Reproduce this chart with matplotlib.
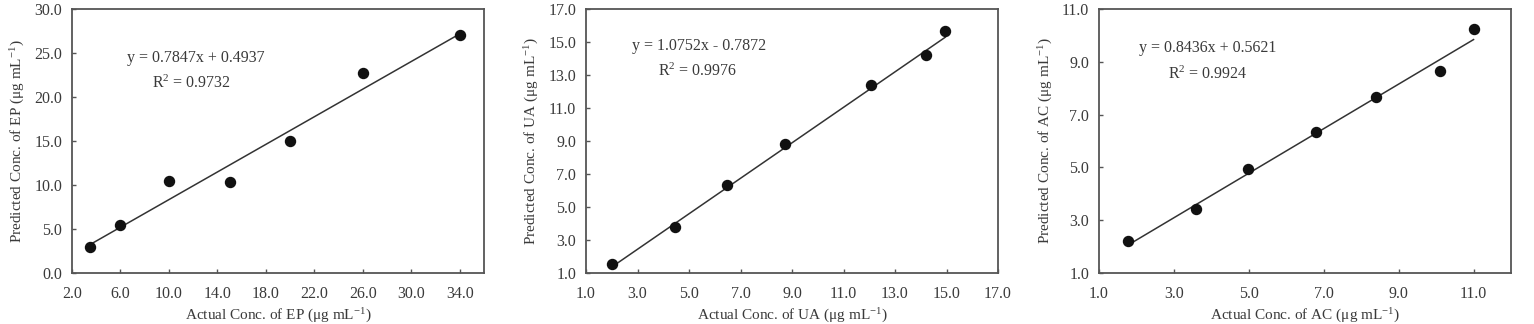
import numpy as np
import matplotlib
matplotlib.use("Agg")
import matplotlib.pyplot as plt

plt.rcParams['font.family'] = ['Liberation Serif', 'DejaVu Serif']
plt.rcParams['mathtext.fontset'] = 'custom'
plt.rcParams['mathtext.rm'] = 'Liberation Serif'
plt.rcParams['mathtext.it'] = 'Liberation Serif:italic'
plt.rcParams['mathtext.default'] = 'rm'

# data
ep_actual = [3.5, 6.0, 10.0, 15.0, 20.0, 26.0, 34.0]
ep_pred = [3.0, 5.4, 10.4, 10.3, 15.0, 22.7, 27.0]
ua_actual = [2.0, 4.46, 6.47, 8.73, 12.06, 14.2, 14.95]
ua_pred = [1.53, 3.79, 6.36, 8.81, 12.4, 14.2, 15.68]
ac_actual = [1.78, 3.59, 4.99, 6.8, 8.4, 10.1, 11.0]
ac_pred = [2.21, 3.41, 4.93, 6.35, 7.68, 8.67, 10.23]

# fit coefficients as printed on the chart
fits = [(0.7847, 0.4937, 0.9732), (1.0752, -0.7872, 0.9976), (0.8436, 0.5621, 0.9924)]
names = ['EP', 'UA', 'AC']

xlims = [(2, 36), (1, 17), (1, 12)]
ylims = [(0, 30), (1, 17), (1, 11)]
xticks = [np.arange(2, 35, 4), np.arange(1, 18, 2), np.arange(1, 12, 2)]
yticks = [np.arange(0, 31, 5), np.arange(1, 18, 2), np.arange(1, 12, 2)]

lefts = [72, 586, 1099]
eq_pos = [((0.30, 0.814), (0.29, 0.72)),
          ((0.274, 0.86), (0.27, 0.765)),
          ((0.265, 0.852), (0.263, 0.754))]

W, H = 1534, 324
fig = plt.figure(figsize=(W / 100, H / 100), dpi=100)

txt_col = '#3a3a3a'
datasets = [(ep_actual, ep_pred), (ua_actual, ua_pred), (ac_actual, ac_pred)]

for i, (xs, ys) in enumerate(datasets):
    ax = fig.add_axes([lefts[i] / W, (H - 273) / H, 412 / W, 264 / H])
    slope, icept, r2 = fits[i]
    xs = np.array(xs)
    xl = np.array([xs.min(), xs.max()])
    ax.plot(xl, slope * xl + icept, color='#333333', lw=1.1, zorder=2)
    ax.plot(xs, ys, 'o', color='#111111', ms=7.2, zorder=3)

    ax.set_xlim(*xlims[i])
    ax.set_ylim(*ylims[i])
    ax.set_xticks(xticks[i])
    ax.set_yticks(yticks[i])
    ax.set_xticklabels(['%.1f' % v for v in xticks[i]])
    ax.set_yticklabels(['%.1f' % v for v in yticks[i]])
    ax.tick_params(direction='in', length=3, width=1, colors='#555555',
                   labelcolor=txt_col, labelsize=11.5)
    ax.tick_params(axis='x', pad=9)
    ax.tick_params(axis='y', pad=7)
    for s in ax.spines.values():
        s.set_color('#555555')
        s.set_linewidth(1.3)

    sign = '+' if icept >= 0 else '-'
    (ex, ey), (rx, ry) = eq_pos[i]
    ax.text(ex, ey, 'y = %.4fx %s %.4f' % (slope, sign, abs(icept)),
            transform=ax.transAxes, ha='center', va='center', fontsize=11.5, color=txt_col)
    ax.text(rx, ry, 'R$^{2}$ = %.4f' % r2,
            transform=ax.transAxes, ha='center', va='center', fontsize=11.5, color=txt_col)

    ax.set_ylabel('Predicted Conc. of %s ($\\mu$g mL$^{-1}$)' % names[i],
                  fontsize=11, color=txt_col, labelpad=5)
    ax.set_xlabel('Actual Conc. of %s ($\\mu$g mL$^{-1}$)' % names[i],
                  fontsize=11, color=txt_col, labelpad=4)

fig.savefig('out.png', dpi=100)
